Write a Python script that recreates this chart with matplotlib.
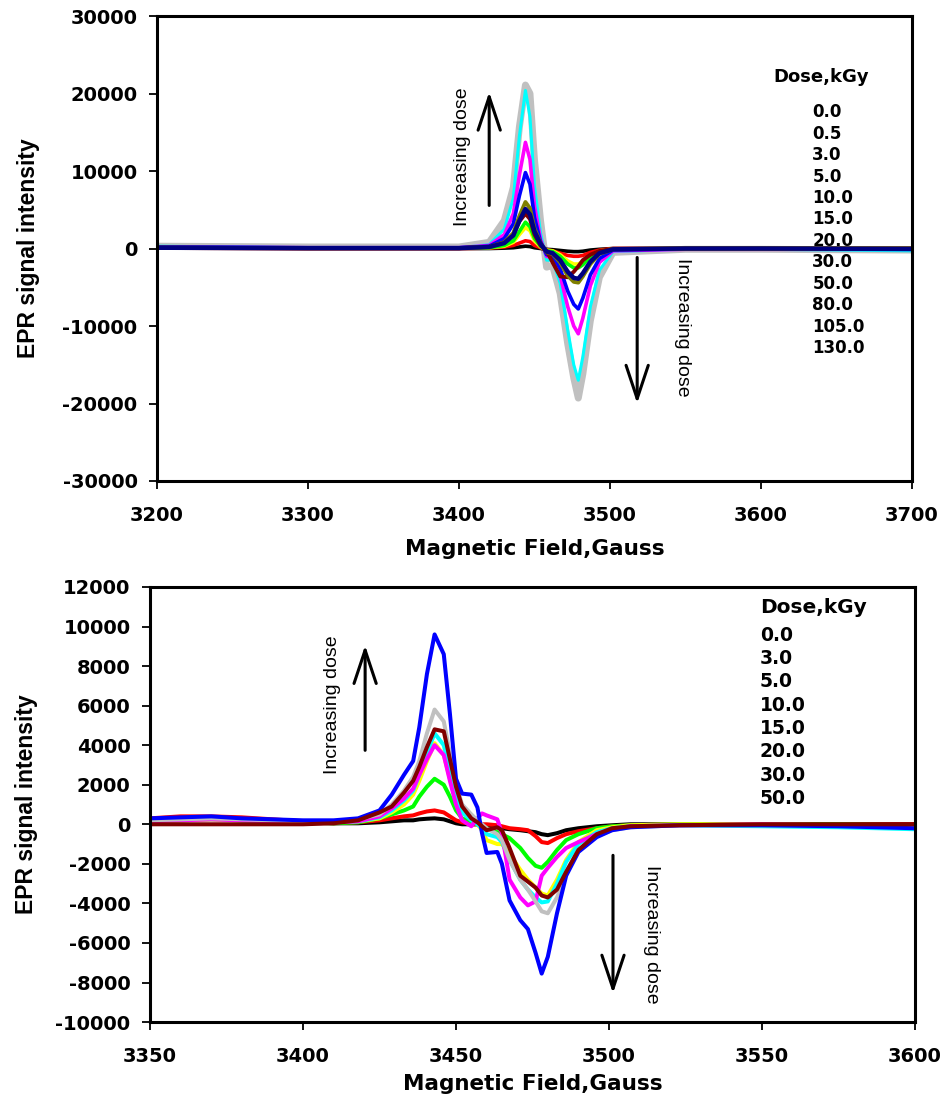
import matplotlib
matplotlib.use("Agg")
import matplotlib.pyplot as plt

plt.rcParams['font.family'] = ['Liberation Sans', 'DejaVu Sans']
plt.rcParams['axes.unicode_minus'] = False

# ---------------- Top panel data (3200-3700 G) ----------------
top_field = [3200, 3300, 3400, 3420, 3430, 3436, 3440, 3444, 3447, 3450, 3454, 3458,
             3462, 3467, 3472, 3476, 3479, 3482, 3487, 3493, 3502, 3550, 3600, 3700]
top_gray = [300, 200, 200, 800, 3600, 7900, 15700, 21100, 20000, 11400, 3600, -2400,
            -2200, -5800, -12300, -16700, -19300, -16200, -9300, -3700, -500, -100, -100, -200]
top_cyan = [300, 100, 100, 500, 2500, 6500, 14500, 20400, 17000, 8000, 2000, -1500,
            -1500, -4500, -10500, -15000, -17000, -14000, -7500, -2800, -400, -100, -100, -300]
top_magenta = [200, 100, 100, 400, 1800, 4500, 9500, 13700, 11500, 5500, 1200, -1000,
               -1200, -3500, -7500, -10000, -11000, -9000, -4800, -1800, -300, -100, -100, -100]
top_blue = [200, 100, 100, 300, 1300, 3200, 6800, 9800, 8300, 4000, 900, -800,
            -1000, -2600, -5500, -7200, -7800, -6400, -3400, -1300, -200, -50, -50, -100]
top_maroon = [100, 50, 50, 200, 800, 1800, 3500, 4500, 3800, 1800, 400, -300,
              -1800, -3600, -3700, -3000, -2300, -1500, -800, -300, -50, 0, 0, 0]
top_olive = [100, 50, 50, 200, 800, 2000, 4200, 6000, 5200, 2600, 700, -500,
             -700, -1800, -3500, -4300, -4400, -3600, -2000, -700, -100, 0, 0, -50]
top_green = [100, 50, 50, 100, 400, 1000, 2200, 3400, 2800, 1300, 300, -300,
             -400, -1000, -2000, -2500, -2500, -2100, -1100, -400, -50, 0, 0, 0]
top_yellow = [100, 50, 50, 100, 300, 800, 1800, 2700, 2300, 1000, 200, -200,
              -300, -800, -1600, -2000, -2000, -1700, -900, -300, -50, 0, 0, 0]
top_red = [50, 0, 0, 50, 200, 400, 700, 1000, 900, 400, 100, -200,
           -300, -600, -900, -1000, -1000, -900, -500, -200, 0, 0, 0, 0]
top_black = [50, 0, 0, 0, 50, 100, 200, 300, 250, 100, 0, -100,
             -150, -250, -350, -400, -400, -350, -200, -100, 0, 0, 0, 0]
top_navy = [100, 50, 50, 200, 700, 1700, 3600, 5100, 4400, 2200, 600, -400,
            -600, -1500, -3000, -3800, -3900, -3200, -1700, -600, -100, 0, 0, -50]

top_series = [
    (top_gray, '#c0c0c0', 5.0),
    (top_cyan, '#00ffff', 2.2),
    (top_magenta, '#ff00ff', 2.6),
    (top_blue, '#0000ff', 2.6),
    (top_black, '#000000', 2.6),
    (top_red, '#ff0000', 2.6),
    (top_yellow, '#ffff00', 2.6),
    (top_green, '#00ff00', 2.6),
    (top_maroon, '#800000', 2.8),
    (top_olive, '#808000', 2.8),
    (top_navy, '#000080', 3.2),
]
top_doses = ['0.0', '0.5', '3.0', '5.0', '10.0', '15.0', '20.0', '30.0', '50.0', '80.0', '105.0', '130.0']

# ---------------- Bottom panel data (3350-3600 G) ----------------
bot_field = [3350, 3360, 3370, 3380, 3390, 3400, 3410, 3418, 3425, 3429, 3433, 3436, 3438,
             3440.5, 3443, 3446, 3448, 3450, 3452, 3455, 3457, 3458.5, 3460, 3463.5, 3465,
             3467.5, 3471, 3473.5, 3476, 3478, 3480, 3483, 3486, 3490, 3496, 3501, 3507,
             3523, 3550, 3575, 3600]
bot_blue = [300, 350, 400, 300, 250, 200, 200, 300, 700, 1500, 2500, 3200, 4900,
            7600, 9600, 8600, 5600, 2300, 1550, 1500, 850, -450, -1450, -1400, -2000,
            -3850, -4850, -5300, -6500, -7550, -6700, -4500, -2600, -1400, -650, -300, -150,
            -50, -50, -100, -200]
bot_gray = [200, 250, 300, 250, 200, 150, 150, 250, 500, 1000, 1700, 2400, 3200,
            4600, 5800, 5200, 3600, 2000, 1000, 500, 200, 0, -200, -500, -800,
            -1800, -2800, -3300, -3900, -4400, -4500, -3700, -2500, -1300, -600, -300, -150,
            -50, -50, -50, -100]
bot_maroon = [0, 0, 0, 0, 0, 0, 50, 200, 600, 900, 1600, 2200, 2900,
              3900, 4800, 4700, 3300, 1900, 900, 300, 100, -100, -300, -150, -300,
              -1200, -2600, -2900, -3200, -3600, -3700, -3300, -2400, -1300, -500, -200, -100,
              -50, 0, 0, 0]
bot_cyan = [200, 250, 300, 200, 150, 100, 100, 150, 350, 700, 1200, 1700, 2500,
            3600, 4600, 4000, 2700, 1400, 600, 200, 0, -200, -500, -650, -900,
            -1800, -2800, -3300, -3700, -3950, -3900, -3000, -1900, -1000, -400, -200, -100,
            -50, -100, -150, -250]
bot_yellow = [150, 200, 250, 200, 150, 100, 100, 150, 300, 600, 1000, 1500, 2200,
              3200, 4100, 3500, 2300, 1200, 600, 300, 0, -300, -800, -1000, -1000,
              -1500, -2300, -2800, -3200, -3500, -3600, -2800, -1800, -900, -300, -150, -50,
              0, 0, -50, -100]
bot_magenta = [150, 200, 250, 200, 150, 100, 100, 150, 400, 800, 1300, 1800, 2500,
               3300, 4000, 3500, 2200, 1000, 200, -100, 300, 550, 450, 250, -450,
               -2800, -3700, -4100, -3900, -2600, -2200, -1650, -1200, -900, -500, -250, -100,
               -50, 0, -50, -100]
bot_green = [150, 200, 250, 200, 150, 100, 50, 100, 300, 500, 700, 900, 1400,
             1900, 2300, 2000, 1400, 700, 300, 100, 0, -100, -200, -400, -500,
             -700, -1200, -1700, -2100, -2200, -1900, -1300, -800, -500, -200, -100, -50,
             0, 0, 0, -50]
bot_red = [300, 400, 400, 350, 250, 150, 50, 100, 200, 300, 400, 450, 550,
           650, 700, 600, 400, 200, 100, 0, 0, 0, 0, -50, -100,
           -200, -250, -300, -600, -900, -950, -700, -500, -350, -200, -100, -50,
           0, 0, 0, 0]
bot_black = [200, 300, 350, 300, 200, 100, 50, 50, 100, 150, 200, 200, 250,
             280, 300, 250, 150, 50, 0, 0, 0, -50, -100, -150, -200,
             -250, -300, -350, -400, -500, -550, -450, -300, -200, -100, -50, 0,
             0, 0, 0, 0]

bot_series = [
    (bot_black, '#000000'),
    (bot_red, '#ff0000'),
    (bot_green, '#00ff00'),
    (bot_yellow, '#ffff00'),
    (bot_cyan, '#00ffff'),
    (bot_magenta, '#ff00ff'),
    (bot_gray, '#c0c0c0'),
    (bot_blue, '#0000ff'),
    (bot_maroon, '#800000'),
]
bot_doses = ['0.0', '3.0', '5.0', '10.0', '15.0', '20.0', '30.0', '50.0']

# ---------------- Figure ----------------
fig = plt.figure(figsize=(9.44, 11.06), dpi=100)
ax1 = fig.add_axes([0.1663, 0.5651, 0.7998, 0.4204])
ax2 = fig.add_axes([0.1589, 0.0759, 0.8104, 0.3934])

wide = ['DejaVu Sans']
arrow_style = '->,head_length=2.4,head_width=0.8'


def style(ax, xlab_y, ylab_x):
    for s in ax.spines.values():
        s.set_linewidth(2.2)
        s.set_color('black')
    ax.tick_params(direction='out', length=6, width=1.3, pad=8)
    ax.tick_params(axis='x', pad=12)
    for lab in ax.get_xticklabels() + ax.get_yticklabels():
        lab.set_fontweight('bold')
        lab.set_fontsize(14)
        lab.set_family(wide)
    ax.set_xlabel('Magnetic Field,Gauss', fontsize=15.5, fontweight='bold', family=wide)
    ax.set_ylabel('EPR signal intensity', fontsize=16.5, fontweight='bold')
    ax.xaxis.set_label_coords(0.5, xlab_y)
    ax.yaxis.set_label_coords(ylab_x, 0.5)


def arrow(ax, x, y0, y1):
    ax.annotate('', xy=(x, y1), xytext=(x, y0),
                arrowprops=dict(arrowstyle=arrow_style, lw=2.2, color='black',
                                shrinkA=0, shrinkB=0))


# Top panel
for vals, col, lw in top_series:
    ax1.plot(top_field, vals, color=col, lw=lw, solid_joinstyle='round', solid_capstyle='round')
ax1.set_xlim(3200, 3700)
ax1.set_ylim(-30000, 30000)
ax1.set_xticks([3200, 3300, 3400, 3500, 3600, 3700])
ax1.set_yticks([-30000, -20000, -10000, 0, 10000, 20000, 30000])
style(ax1, -0.125, -0.155)

arrow(ax1, 3420, 5560, 20200)
arrow(ax1, 3518, -1160, -20000)
ax1.text(3402, 11800, 'Increasing dose', rotation=90, ha='center', va='center', fontsize=14)
ax1.text(3548, -10200, 'Increasing dose', rotation=270, ha='center', va='center', fontsize=14)
ax1.text(3608, 22100, 'Dose,kGy', fontsize=13, fontweight='bold', ha='left', va='center', family=wide)
for i, d in enumerate(top_doses):
    ax1.text(3634, 17600 - i * 2770, d, fontsize=12, fontweight='bold', ha='left', va='center',
             family=wide)

# Bottom panel
for vals, col in bot_series:
    ax2.plot(bot_field, vals, color=col, lw=2.9, solid_joinstyle='round', solid_capstyle='round')
ax2.set_xlim(3350, 3600)
ax2.set_ylim(-10000, 12000)
ax2.set_xticks([3350, 3400, 3450, 3500, 3550, 3600])
ax2.set_yticks(list(range(-10000, 12001, 2000)))
style(ax2, -0.12, -0.146)

arrow(ax2, 3420.3, 3740, 9050)
arrow(ax2, 3501.3, -1570, -8550)
ax2.text(3409.8, 6070, 'Increasing dose', rotation=90, ha='center', va='center', fontsize=14)
ax2.text(3514, -5560, 'Increasing dose', rotation=270, ha='center', va='center', fontsize=14)
ax2.text(3549.3, 10980, 'Dose,kGy', fontsize=14.5, fontweight='bold', ha='left', va='center', family=wide)
for i, d in enumerate(bot_doses):
    ax2.text(3549.3, 9560 - i * 1180, d, fontsize=13.5, fontweight='bold', ha='left', va='center',
             family=wide)

fig.savefig('out.png', dpi=100)
